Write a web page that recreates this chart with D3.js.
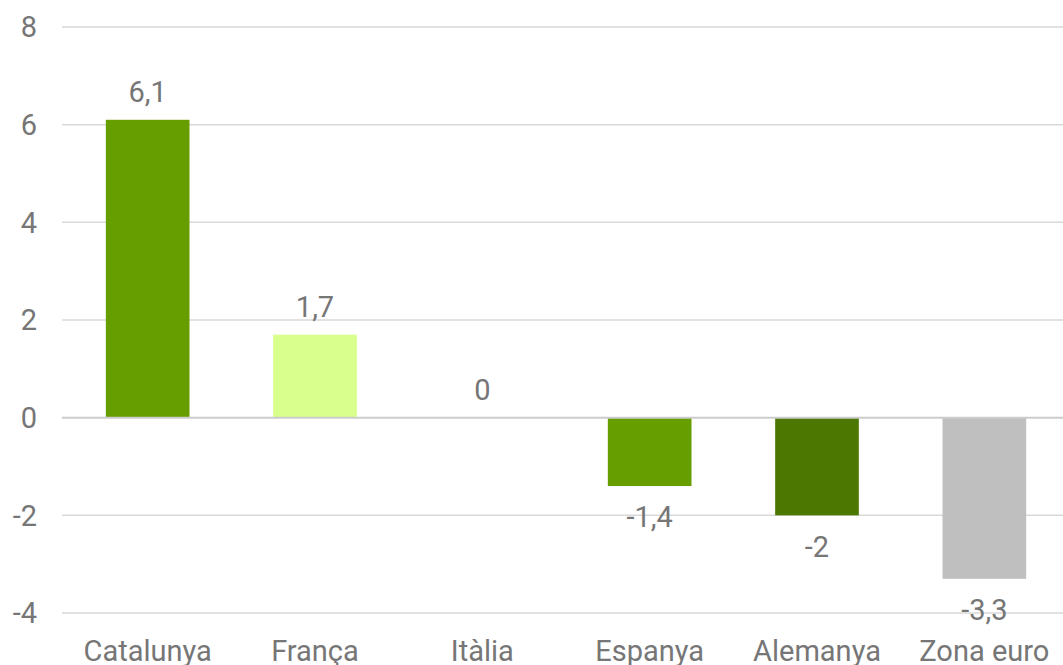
<!DOCTYPE html>
<html><head><meta charset="utf-8">
<script src="https://cdn.jsdelivr.net/npm/d3@7"></script>
<style>body{margin:0;background:#fff}svg{display:block;font-family:Roboto,sans-serif}</style>
</head><body><svg id="c" width="1063" height="665"></svg>
<script>
const categories = ["Catalunya","França","Itàlia","Espanya","Alemanya","Zona euro"];
const values = [6.1, 1.7, 0, -1.4, -2, -3.3];
const colors = ["#669e00","#d9ff8c","#669e00","#669e00","#4c7700","#bfbfbf"];
const yTicks = [-4,-2,0,2,4,6,8];

const svg = d3.select("#c");
const x = d3.scaleBand().domain(categories).range([64,1068]).paddingInner(0.5).paddingOuter(0.25);
const y = d3.scaleLinear().domain([-4,8]).range([613,27]);
const textCol = "#767676";
const fs = 29;
const fmt = v => String(v).replace(".", ",");

svg.append("g").selectAll("line").data(yTicks.filter(t=>t!==0)).join("line")
  .attr("x1",62).attr("x2",1063).attr("y1",d=>y(d)).attr("y2",d=>y(d))
  .attr("stroke","#d9d9d9").attr("stroke-width",1.5);

svg.append("g").selectAll("text").data(yTicks).join("text")
  .attr("x",37).attr("y",d=>y(d)).attr("dy","0.36em").attr("text-anchor","end")
  .attr("fill",textCol).attr("font-size",fs).text(d=>d);

svg.append("g").selectAll("rect").data(values).join("rect")
  .attr("x",(d,i)=>x(categories[i])).attr("width",x.bandwidth())
  .attr("y",d=>y(Math.max(0,d))).attr("height",d=>Math.abs(y(d)-y(0)))
  .attr("fill",(d,i)=>colors[i]);

svg.append("line").attr("x1",62).attr("x2",1063).attr("y1",y(0)).attr("y2",y(0))
  .attr("stroke","#cccccc").attr("stroke-width",2);

svg.append("g").selectAll("text").data(values).join("text")
  .attr("x",(d,i)=>x(categories[i])+x.bandwidth()/2)
  .attr("y",d=> d>=0 ? y(d)-28 : y(d)+31).attr("dy","0.36em").attr("text-anchor","middle")
  .attr("fill",textCol).attr("font-size",fs).text(d=>fmt(d));

svg.append("g").selectAll("text").data(categories).join("text")
  .attr("x",d=>x(d)+x.bandwidth()/2).attr("y",651).attr("dy","0.36em").attr("text-anchor","middle")
  .attr("fill",textCol).attr("font-size",fs).text(d=>d);
</script></body></html>
